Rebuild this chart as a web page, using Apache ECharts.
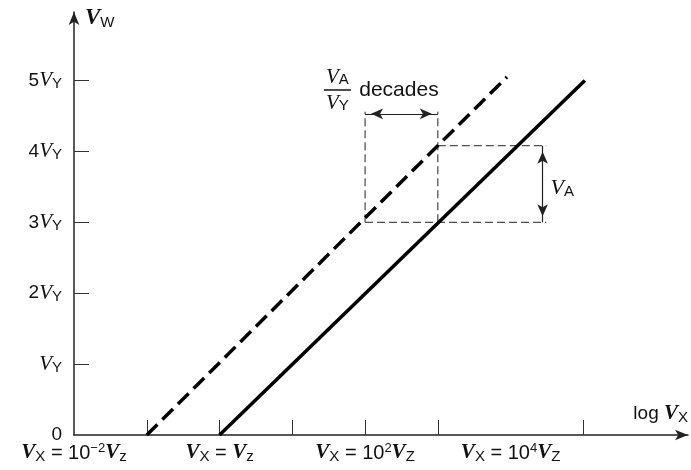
<!DOCTYPE html>
<html>
<head>
<meta charset="utf-8">
<script src="https://cdn.jsdelivr.net/npm/echarts@6/dist/echarts.min.js"></script>
<style>
  html, body { margin: 0; padding: 0; background: #fff; }
  #chart { width: 691px; height: 470px; }
</style>
</head>
<body>
<div id="chart"></div>
<script>
// Horizontal axis: log10(V_X / V_z), in decades. Vertical axis: V_W in units of V_Y.
const xTickValues = [-1, 0, 1, 2, 3, 5];
const xLabelValues = [-2, 0, 2, 4];
const xLabelTexts = [
  '{bv|V}{sub|X}{t| = 10}{sup|\u22122}{bv|V}{sub|z}',
  '{bv|V}{sub|X}{t| = }{bv|V}{sub|z}',
  '{bv|V}{sub|X}{t| = 10}{sup|2}{bv|V}{sub|Z}',
  '{bv|V}{sub|X}{t| = 10}{sup|4}{bv|V}{sub|Z}'
];
const yTickValues = [1, 2, 3, 4, 5];
const yLabelValues = [0, 1, 2, 3, 4, 5];
const yLabelTexts = [
  '{n|0}',
  '{v|V}{sub|Y}',
  '{n|2}{v|V}{sub|Y}',
  '{n|3}{v|V}{sub|Y}',
  '{n|4}{v|V}{sub|Y}',
  '{n|5}{v|V}{sub|Y}'
];

// Transfer characteristics (V_W versus log V_X)
const solidLine = [[0, 0], [5.02, 5.0]];
const dashedLine = [[-1, 0], [3.95, 5.05]];

// Construction lines showing the shift between the two characteristics
const guideLeft = [[2, 3], [2, 4.56]];
const guideRight = [[3, 3], [3, 4.56]];
const guideBottom = [[2, 3], [4.49, 3]];
const guideTop = [[3, 4.08], [4.49, 4.08]];

// Dimension arrows
const decadesArrow = [[2, 4.53], [3, 4.53]];
const vaArrow = [[4.44, 4.08], [4.44, 3]];

// Annotation anchors
const fractionAnchor = [1.62, 4.866];
const decadesAnchor = [1.92, 4.866];
const vaAnchor = [4.55, 3.48];

const SANS = 'Liberation Sans';
const SERIF = 'Liberation Serif';
const INK = '#111';
const AXIS = '#222';

const chart = echarts.init(document.getElementById('chart'), null, { renderer: 'canvas' });

function guide(data) {
  return {
    type: 'line', data: data, symbol: 'none', silent: true, z: 2,
    lineStyle: { color: AXIS, width: 1, type: [8, 4] }
  };
}

function dimArrow(data) {
  return {
    type: 'line', data: [], symbol: 'none', silent: true,
    markLine: {
      silent: true, animation: false,
      label: { show: false },
      lineStyle: { color: AXIS, width: 1.2, type: 'solid', opacity: 1 },
      data: [[
        { coord: data[0], symbol: 'arrow', symbolSize: [8, 12], symbolOffset: [0, 6] },
        { coord: data[1], symbol: 'arrow', symbolSize: [8, 12], symbolOffset: [0, 6] }
      ]]
    }
  };
}

function textAt(anchor, text, rich, align) {
  return {
    type: 'scatter', data: [anchor], symbolSize: 0, silent: true, z: 5,
    itemStyle: { opacity: 1 },
    label: {
      show: true, position: [0, 0], align: align, verticalAlign: 'middle',
      formatter: text, rich: rich, color: INK, opacity: 1
    }
  };
}

const option = {
  animation: false,
  backgroundColor: '#fff',
  grid: { left: 74, right: 1, top: 12, bottom: 35, containLabel: false },
  xAxis: {
    type: 'value', min: -2, max: 6.438,
    splitLine: { show: false },
    axisLine: {
      onZero: false, symbol: ['none', 'arrow'], symbolSize: [8, 13],
      lineStyle: { color: AXIS, width: 1.5 }
    },
    axisTick: {
      show: true, inside: true, length: 15, customValues: xTickValues,
      lineStyle: { color: '#333', width: 1 }
    },
    axisLabel: {
      show: true, margin: 7, customValues: xLabelValues,
      formatter: function (v) { return xLabelTexts[xLabelValues.indexOf(v)]; },
      rich: {
        bv: { fontFamily: SERIF, fontStyle: 'italic', fontWeight: 'bold', fontSize: 21, color: INK, lineHeight: 22 },
        t: { fontFamily: SANS, fontSize: 20, color: INK, lineHeight: 22 },
        sub: { fontFamily: SANS, fontSize: 15, color: INK, verticalAlign: 'bottom' },
        sup: { fontFamily: SANS, fontSize: 13, color: INK, verticalAlign: 'top' }
      }
    },
    name: '{t|log }{v|V}{sub|X}',
    nameLocation: 'end',
    nameGap: 0,
    nameTextStyle: {
      align: 'right', verticalAlign: 'bottom', padding: [0, 0, 10, 0],
      rich: {
        t: { fontFamily: SANS, fontSize: 19, color: INK, lineHeight: 22 },
        v: { fontFamily: SERIF, fontStyle: 'italic', fontWeight: 'bold', fontSize: 21, color: INK, lineHeight: 22 },
        sub: { fontFamily: SANS, fontSize: 15, color: INK, verticalAlign: 'bottom' }
      }
    }
  },
  yAxis: {
    type: 'value', min: 0, max: 5.966,
    splitLine: { show: false },
    axisLine: {
      onZero: false, symbol: ['none', 'arrow'], symbolSize: [8, 13],
      lineStyle: { color: AXIS, width: 1.5 }
    },
    axisTick: {
      show: true, inside: true, length: 15, customValues: yTickValues,
      lineStyle: { color: '#333', width: 1 }
    },
    axisLabel: {
      show: true, margin: 12, customValues: yLabelValues,
      formatter: function (v) { return yLabelTexts[yLabelValues.indexOf(v)]; },
      rich: {
        n: { fontFamily: SANS, fontSize: 19, color: INK, lineHeight: 22 },
        v: { fontFamily: SERIF, fontStyle: 'italic', fontSize: 21, color: INK, lineHeight: 22 },
        sub: { fontFamily: SANS, fontSize: 15, color: INK, verticalAlign: 'bottom' }
      }
    },
    name: '{v|V}{sub|W}',
    nameLocation: 'end',
    nameGap: -6,
    nameTextStyle: {
      align: 'left', verticalAlign: 'middle', padding: [0, 0, 0, 11],
      rich: {
        v: { fontFamily: SERIF, fontStyle: 'italic', fontWeight: 'bold', fontSize: 23, color: INK, lineHeight: 24 },
        sub: { fontFamily: SANS, fontSize: 15, color: INK, verticalAlign: 'bottom' }
      }
    }
  },
  series: [
    guide(guideLeft), guide(guideRight), guide(guideBottom), guide(guideTop),
    {
      type: 'line', data: solidLine, symbol: 'none', silent: true, z: 3,
      lineStyle: { color: '#000', width: 3.5, cap: 'butt' }
    },
    {
      type: 'line', data: dashedLine, symbol: 'none', silent: true, z: 3,
      lineStyle: { color: '#000', width: 3.5, type: [15, 7], cap: 'butt' }
    },
    dimArrow(decadesArrow),
    dimArrow(vaArrow),
    textAt(fractionAnchor, '{v|V}{s|A}\n{bar| }\n{v|V}{s|Y}', {
      v: { fontFamily: SERIF, fontStyle: 'italic', fontSize: 21, color: INK, lineHeight: 20 },
      s: { fontFamily: SANS, fontSize: 15, color: INK, verticalAlign: 'bottom' },
      bar: { fontSize: 1, width: 27, height: 1.5, lineHeight: 6, backgroundColor: INK }
    }, 'center'),
    textAt(decadesAnchor, '{t|decades}', {
      t: { fontFamily: SANS, fontSize: 21, color: INK }
    }, 'left'),
    textAt(vaAnchor, '{v|V}{s|A}', {
      v: { fontFamily: SERIF, fontStyle: 'italic', fontSize: 22, color: INK, lineHeight: 22 },
      s: { fontFamily: SANS, fontSize: 15, color: INK, verticalAlign: 'bottom' }
    }, 'left')
  ]
};

chart.setOption(option);
</script>
</body>
</html>
